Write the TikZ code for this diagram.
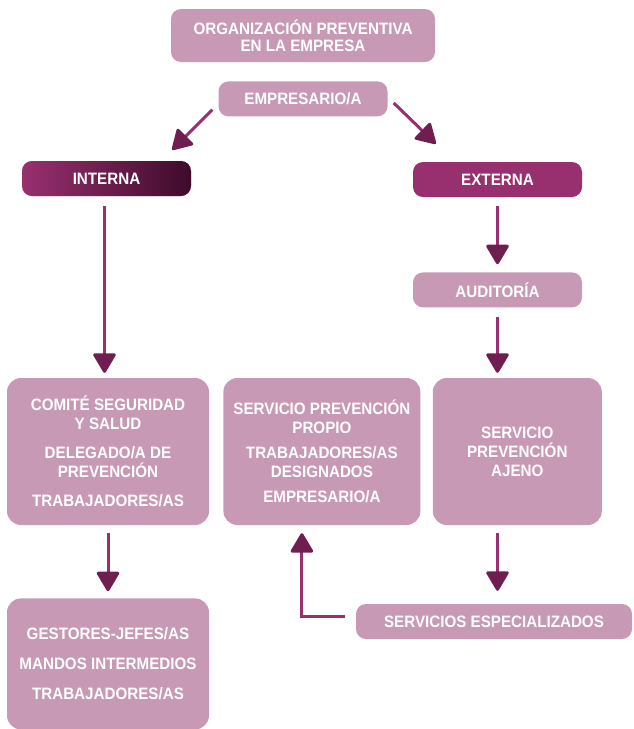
\documentclass[tikz,border=0pt]{standalone}
\usepackage{fontspec}
\setmainfont{Liberation Sans}[FakeStretch=0.92]
\usetikzlibrary{positioning}
\usetikzlibrary{arrows.meta}
\definecolor{malva}{HTML}{C899B5}
\definecolor{morado}{HTML}{98306F}
\definecolor{oscuro}{HTML}{3E0B2B}
\definecolor{punta}{HTML}{6E1F50}

\begin{document}
\begin{tikzpicture}[x=1pt,y=-1pt,>={Triangle[width=24pt,length=21pt,round,color=punta]},
    font=\fontsize{16.5}{19}\selectfont\bfseries,
    box/.style={fill=malva,text=white,rounded corners=10pt,minimum height=35pt,inner sep=0pt,align=center},
    bigbox/.style={box,rounded corners=14pt,minimum height=147pt},
    flecha/.style={draw=morado,line width=3pt,->}]
    \useasboundingbox (0,0) rectangle (633,729);
    \node (org) [box,minimum width=264pt,minimum height=53pt,font=\fontsize{16.5}{17}\selectfont\bfseries] at (303,35.5) {ORGANIZACIÓN PREVENTIVA\\EN LA EMPRESA};
    \node (emp) [box,minimum width=169pt,below=19pt of org] {EMPRESARIO/A};
    \node (int) [box,minimum width=169pt,left color=morado,right color=oscuro] at (106.5,178.5) {INTERNA};
    \node (ext) [box,minimum width=169pt,fill=morado] at (497.5,179.5) {EXTERNA};
    \node (aud) [box,minimum width=169pt,below=75pt of ext] {AUDITORÍA};
    \node (com) [bigbox,minimum width=202pt] at (108,451.5) {COMITÉ SEGURIDAD\\Y SALUD\\[10pt]DELEGADO/A DE\\PREVENCIÓN\\[10pt]TRABAJADORES/AS};
    \node (spp) [bigbox,minimum width=197pt,right=14pt of com] {SERVICIO PREVENCIÓN\\PROPIO\\[6pt]TRABAJADORES/AS\\DESIGNADOS\\[6pt]EMPRESARIO/A};
    \node (aje) [bigbox,minimum width=169pt,right=12pt of spp] {SERVICIO\\PREVENCIÓN\\AJENO};
    \node (ges) [bigbox,minimum width=202pt,minimum height=131pt,below=73pt of com] {GESTORES-JEFES/AS\\[11pt]MANDOS INTERMEDIOS\\[11pt]TRABAJADORES/AS};
    \node (ser) [box,minimum width=276pt] at (494,621.5) {SERVICIOS ESPECIALIZADOS};
    % flechas
    \draw [flecha] ([xshift=-6pt,yshift=7pt]emp.south west) -- ([xshift=-19pt,yshift=11pt]int.north east);
    \draw [flecha] ([xshift=6pt,yshift=-4pt]emp.east) -- ([xshift=23pt,yshift=18pt]ext.north west);
    \draw [flecha,shorten <=10pt,shorten >=5pt] ([xshift=-2pt]int.south) -- ([xshift=-2pt]int.south |- com.north);
    \draw [flecha,shorten <=9pt,shorten >=8pt] (ext.south) -- (ext.south |- aud.north);
    \draw [flecha,shorten <=9pt,shorten >=5pt] (aud.south) -- (aud.south |- aje.north);
    \draw [flecha,shorten <=8pt,shorten >=7pt] (com.south) -- (com.south |- ges.north);
    \draw [flecha,shorten <=8pt,shorten >=13pt] (aud.south |- aje.south) -- (aud.south |- ser.north);
    \draw [flecha,shorten >=8pt] ([xshift=-11pt,yshift=5pt]ser.west) -| ([xshift=-20pt]spp.south);
\end{tikzpicture}
\end{document}
